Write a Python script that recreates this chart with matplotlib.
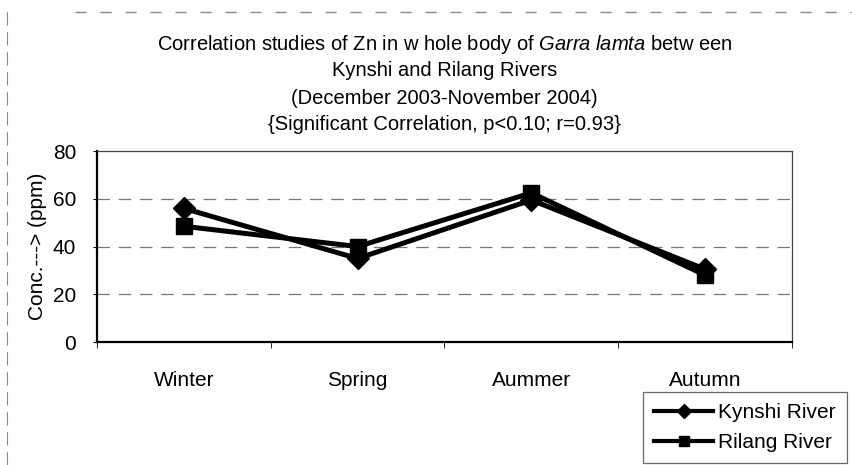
import numpy as np
import matplotlib.pyplot as plt
from matplotlib.lines import Line2D

plt.rcParams['font.family'] = ['Liberation Sans', 'DejaVu Sans']
plt.rcParams['mathtext.fontset'] = 'custom'
plt.rcParams['mathtext.it'] = 'Liberation Sans:italic'
plt.rcParams['mathtext.rm'] = 'Liberation Sans'

seasons = ['Winter', 'Spring', 'Aummer', 'Autumn']
kynshi = [56, 35, 59.5, 30.5]
rilang = [48.5, 40, 62.5, 28]
y_ticks = [0, 20, 40, 60, 80]

fs = 15

fig = plt.figure(figsize=(8.53, 4.65), dpi=100)
ax = fig.add_axes([0.1137, 0.2645, 0.8148, 0.4105])

x = np.arange(len(seasons))
ax.plot(x, kynshi, color='black', lw=3.6, marker='D', ms=11, label='Kynshi River', zorder=3)
ax.plot(x, rilang, color='black', lw=3.6, marker='s', ms=11, label='Rilang River', zorder=3)

ax.set_xlim(-0.5, 3.5)
ax.set_ylim(0, 80)
ax.set_yticks(y_ticks)
ax.set_yticklabels([str(v) for v in y_ticks], fontsize=fs)
ax.set_xticks(x)
ax.set_xticklabels(seasons, fontsize=fs)
ax.set_xticks(np.arange(-0.5, 4, 1), minor=True)
ax.tick_params(axis='x', which='major', length=0, pad=21)
ax.tick_params(axis='x', which='minor', length=4, direction='out')
ax.tick_params(axis='y', length=3, direction='out', pad=12)

for g in [20, 40, 60]:
    ax.axhline(g, color='#777777', lw=0.9, dashes=(10, 7), zorder=1)

for side in ['left', 'bottom']:
    ax.spines[side].set_linewidth(1.6)
for side in ['top', 'right']:
    ax.spines[side].set_linewidth(0.9)
    ax.spines[side].set_color('#444444')

ax.set_ylabel('Conc.---> (ppm)', fontsize=fs, labelpad=4)

title_lines = [
    r'Correlation studies of Zn in w hole body of $\it{Garra\ lamta}$ betw een',
    'Kynshi and Rilang Rivers',
    '(December 2003-November 2004)',
    '{Significant Correlation, p<0.10; r=0.93}',
]
cx = 0.1137 + 0.8148 / 2
for i, t in enumerate(title_lines):
    fig.text(cx, 1 - (44 + 27 * i) / 465, t, ha='center', va='center', fontsize=14.5)

# outer chart frame (partly visible in the scan)
fig.add_artist(Line2D([75 / 853, 1], [1 - 12 / 465] * 2, color='#888888', lw=1, dashes=(8, 10)))
fig.add_artist(Line2D([7 / 853] * 2, [0, 1 - 10 / 465], color='#888888', lw=0.8, dashes=(12, 6)))

leg = fig.legend(loc='upper left', bbox_to_anchor=(643 / 853, 1 - 392 / 465),
                 fontsize=fs, frameon=True, fancybox=False, edgecolor='#444444',
                 handlelength=2.8, handletextpad=0.25, borderpad=0.55, labelspacing=0.5,
                 borderaxespad=0, markerscale=0.65)
leg.get_frame().set_linewidth(0.9)
for h in leg.legend_handles:
    h.set_linewidth(3)

fig.savefig('out.png', dpi=100)
